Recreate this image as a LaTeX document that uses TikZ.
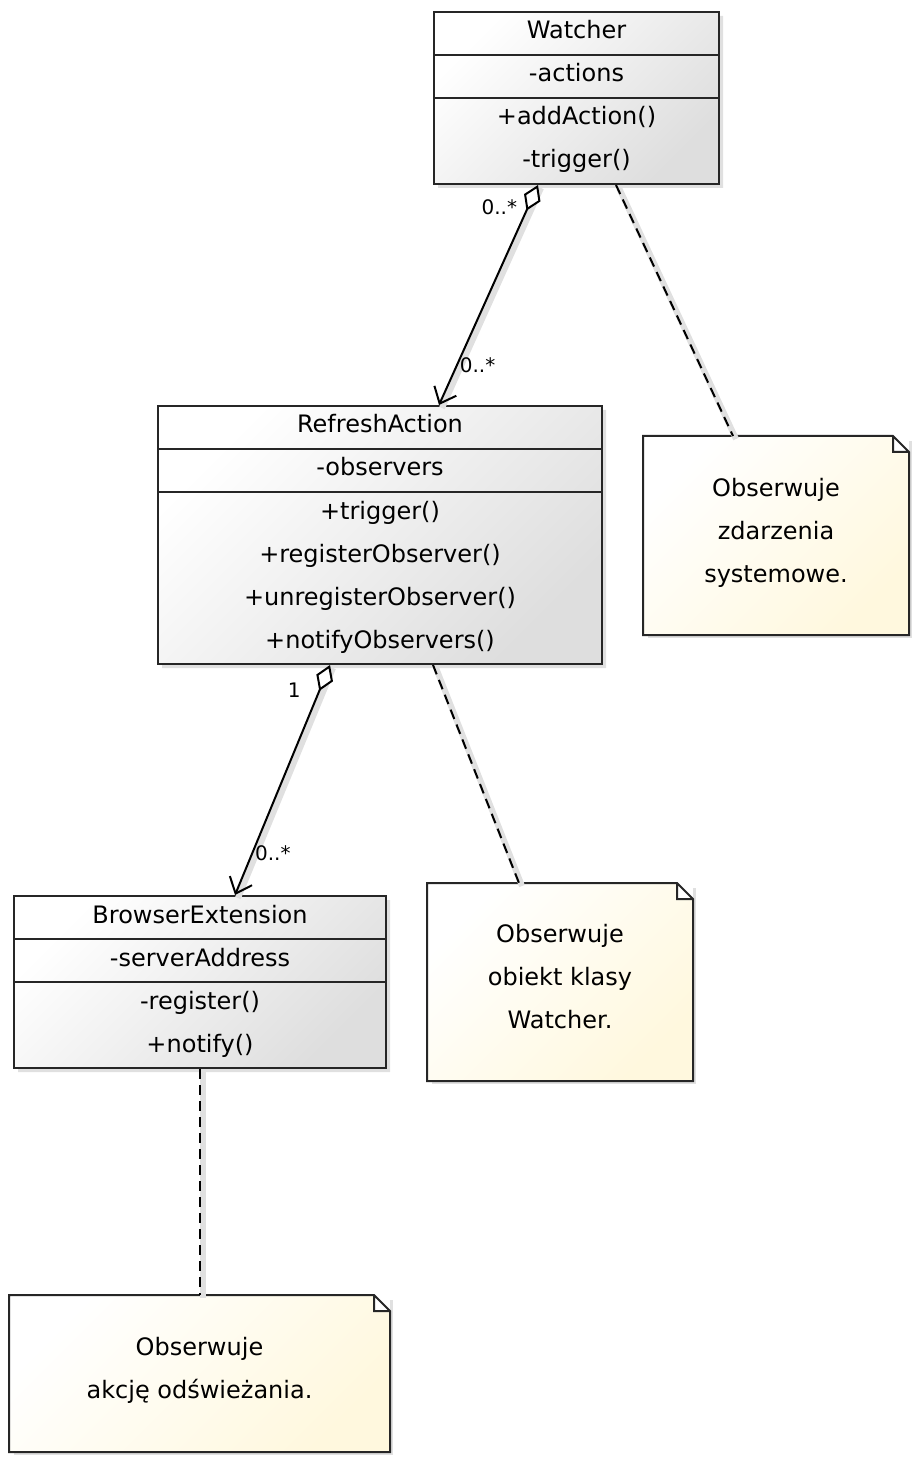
\documentclass[tikz,border=0pt]{standalone}
\usepackage{fontspec}
\setmainfont{DejaVu Sans}
\usetikzlibrary{shapes.multipart,shadows,arrows.meta}

\definecolor{notebg}{RGB}{255,248,222}
\newcommand\rowstrut{\rule[-8pt]{0pt}{21.5pt}}
\newcommand\notestrut{\rule[-9pt]{0pt}{21.5pt}}

\begin{document}
\begin{tikzpicture}[x=0.5pt,y=-0.5pt,line width=1pt]
  \tikzset{
    cls/.style={rectangle split,rectangle split parts=3,draw=black!85,
      align=center,inner xsep=4pt,inner ysep=-0.5pt,anchor=north west,
      top color=white,bottom color=black!13,shading angle=45,
      drop shadow={shadow xshift=2pt,shadow yshift=-2pt,fill=black!20,opacity=.6},
      font=\fontsize{12}{21.5}\selectfont},
    notebox/.style={align=center,inner sep=0pt,anchor=north west,
      top color=white,bottom color=notebg,shading angle=45,
      drop shadow={shadow xshift=2pt,shadow yshift=-2pt,fill=black!20,opacity=.6},
      font=\fontsize{12}{21.5}\selectfont},
    lshadow/.style={preaction={draw=black!12,line width=3pt,solid,-,
      transform canvas={shift={(1.5pt,-1.5pt)}}}},
    agg/.style={lshadow,{Diamond[fill=white,length=14pt,width=9pt]}-{Straight Barb[length=7pt,width=12pt]}},
    dep/.style={lshadow,dash pattern=on 5pt off 3pt},
    mult/.style={inner sep=1pt,font=\fontsize{10}{12}\selectfont}
  }
  \useasboundingbox (0,0) rectangle (917,1459);

  % Classes
  \node[cls,minimum width=142.5pt] (W) at (433,11)
    {\rowstrut Watcher
     \nodepart{second}\rowstrut -actions
     \nodepart{third}\rowstrut +addAction()\\\rowstrut -trigger()};
  \node[cls,minimum width=222pt] (R) at (157,405)
    {\rowstrut RefreshAction
     \nodepart{second}\rowstrut -observers
     \nodepart{third}\rowstrut +trigger()\\\rowstrut +registerObserver()\\
       \rowstrut +unregisterObserver()\\\rowstrut +notifyObservers()};
  \node[cls,minimum width=186pt] (B) at (13,895)
    {\rowstrut BrowserExtension
     \nodepart{second}\rowstrut -serverAddress
     \nodepart{third}\rowstrut -register()\\\rowstrut +notify()};

  % Notes
  \node[notebox,minimum width=132pt,minimum height=98.5pt] (N1) at (643,436)
    {\notestrut Obserwuje\\\notestrut zdarzenia\\\notestrut systemowe.};
  \node[notebox,minimum width=132pt,minimum height=98pt] (N2) at (427,883)
    {\notestrut Obserwuje\\\notestrut obiekt klasy\\\notestrut Watcher.};
  \node[notebox,minimum width=189.5pt,minimum height=77.5pt] (N3) at (9,1295)
    {\notestrut Obserwuje\\\notestrut akcję odświeżania.};

  \foreach \n in {N1,N2,N3}{
    \fill[white] ([xshift=-8pt]\n.north east) rectangle ([yshift=-8pt]\n.north east);
    \draw[draw=black!85,line join=miter]
      (\n.north west) -- ([xshift=-8pt]\n.north east) -- ([yshift=-8pt]\n.north east)
      -- (\n.south east) -- (\n.south west) -- cycle
      ([xshift=-8pt]\n.north east) |- ([yshift=-8pt]\n.north east);
  }

  % Associations
  \draw[agg] ([shift={(-38.5,0)}]W.south) --
    node[mult,pos=0.1,left=4pt] {0..*}
    node[mult,pos=0.82,right=0pt] {0..*} ([shift={(59,0)}]R.north);
  \draw[agg] ([shift={(-50,0)}]R.south) --
    node[mult,pos=0.11,left=8pt] {1}
    node[mult,pos=0.82,right=0pt] {0..*} ([shift={(35,0)}]B.north);

  % Note links
  \draw[dep] ([shift={(39.5,0)}]W.south) -- ([shift={(-43,0)}]N1.north);
  \draw[dep] ([shift={(53,0)}]R.south) -- ([shift={(-41,0)}]N2.north);
  \draw[dep] (B.south) -- (B.south |- N3.north);
\end{tikzpicture}
\end{document}
